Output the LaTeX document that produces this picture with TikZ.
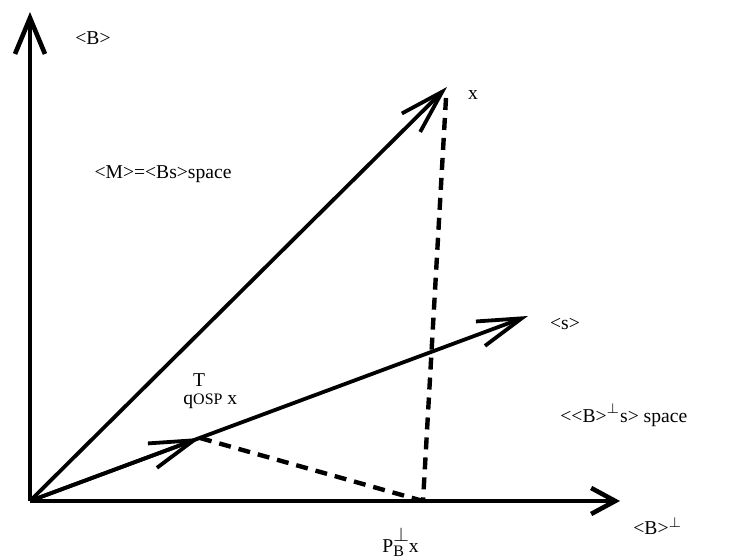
\documentclass[tikz,border=0pt]{standalone}
\usepackage{fontspec}
\setmainfont{Liberation Serif}
\usetikzlibrary{arrows.meta}

\tikzset{
  vec/.style={line width=1.9pt, -{Straight Barb[length=22pt,width=13pt,line width=1.9pt]}},
  ax/.style={line width=2.3pt, -{Straight Barb[length=18pt,width=15pt,line width=2.3pt]}},
  proj/.style={line width=2.2pt, dash pattern=on 6pt off 4pt},
  lbl/.style={inner sep=0pt, font=\fontsize{9.8}{12}\selectfont}
}

\begin{document}
\begin{tikzpicture}[x=0.5pt, y=-0.5pt]
    \useasboundingbox (0,0) rectangle (730,560);

    % points
    \coordinate (O) at (30,501);
    \coordinate (Btop) at (30,12);
    \coordinate (Bperp) at (620,501);
    \coordinate (X) at (447,87);
    \coordinate (Xd) at (446,98);
    \coordinate (S) at (528,316);
    \coordinate (Q) at (200,438);
    \coordinate (P) at (423,501);

    % axes
    \draw[ax] (O) -- (Btop);
    \draw[ax, -{Straight Barb[length=12pt,width=13pt,line width=2.3pt]}] (O) -- (Bperp);

    % vectors
    \draw[vec] (O) -- (X);
    \draw[vec] (O) -- (S);
    \draw[vec] (O) -- (Q);

    % projections
    \draw[proj] (Xd) -- (P);
    \draw[proj] (Q) -- (P);

    % labels
    \node[lbl] (lB) at (93,38) {<B>};
    \node[lbl] (lx) at (473,95) {x};
    \node[lbl] (lM) at (163,174) {<M>=<Bs>space};
    \node[lbl] (ls) at (565,324) {<s>};
    \node[lbl, anchor=base west] (lq) at (183,405)
        {q\rlap{\raisebox{2.1ex}{T}}{\footnotesize OSP} x};
    \node[lbl, anchor=base west] (lsp) at (560,423)
        {<{}<B>\raisebox{0.2ex}{\textsuperscript{$\perp$}}s> space};
    \node[lbl, anchor=base west] (lBp) at (633,535)
        {<B>\textsuperscript{$\perp$}};
    \node[lbl, anchor=base west] (lP) at (382,553)
        {P\rlap{\raisebox{1.3ex}{$\perp$}}\raisebox{-0.4ex}{\footnotesize B} x};
\end{tikzpicture}
\end{document}
